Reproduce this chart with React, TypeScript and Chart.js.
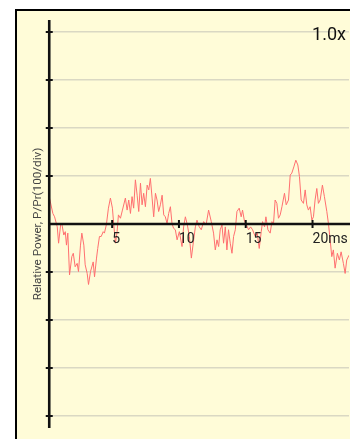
import React, { useEffect, useRef } from "react";
import { Chart, registerables } from "chart.js";

Chart.register(...registerables);

// time (ms) of each sample
const timeMs: number[] = [
  0.31, 0.56, 0.69, 0.89, 0.99, 1.14, 1.23, 1.38, 1.49, 1.58, 1.68, 1.81, 1.98, 2.09, 2.23, 2.38, 2.48,
  2.63, 2.73, 2.88, 2.98, 3.13, 3.23, 3.38, 3.58, 3.68, 3.83, 3.92, 4.05, 4.18, 4.33, 4.42, 4.57, 4.72,
  4.87, 5.02, 5.12, 5.25, 5.37, 5.47, 5.62, 5.77, 5.99, 6.12, 6.24, 6.37, 6.49, 6.61, 6.74, 6.87, 6.99,
  7.12, 7.24, 7.36, 7.49, 7.62, 7.74, 7.86, 7.99, 8.11, 8.24, 8.36, 8.48, 8.61, 8.74, 8.86, 8.98, 9.11,
  9.23, 9.36, 9.48, 9.6, 9.73, 9.86, 10.03, 10.23, 10.35, 10.48, 10.63, 10.78, 10.93, 11.1, 11.23, 11.35,
  11.52, 11.67, 11.85, 12.03, 12.22, 12.42, 12.59, 12.72, 12.85, 12.97, 13.09, 13.22, 13.34, 13.47, 13.59,
  13.71, 13.84, 13.97, 14.09, 14.22, 14.34, 14.51, 14.66, 14.76, 14.91, 15.06, 15.21, 15.36, 15.51, 15.71,
  15.86, 16.01, 16.16, 16.26, 16.41, 16.51, 16.66, 16.83, 16.96, 17.08, 17.2, 17.33, 17.45, 17.58, 17.71,
  17.9, 18.03, 18.2, 18.33, 18.45, 18.6, 18.75, 18.9, 19.02, 19.15, 19.32, 19.45, 19.57, 19.69, 19.82,
  19.95, 20.07, 20.19, 20.32, 20.44, 20.57, 20.74, 20.89, 21.07, 21.19, 21.32, 21.44, 21.56, 21.69, 21.86,
  22.01, 22.14, 22.31, 22.44, 22.56, 22.73,
];

// relative power (units of 100/div)
const relPower: number[] = [
  0.54, 0.22, 0.15, -0.06, -0.4, -0.02, 0.01, -0.23, -0.16, -0.44, -0.19, -1.06, -0.68, -0.61, -0.89, -0.82, -0.99,
  -0.44, -0.19, -0.44, -0.85, -1.03, -1.26, -0.99, -0.79, -1.1, -0.71, -0.51, -0.26, -0.26, -0.16, -0.19, -0.01, 0.33,
  0.54, 0.33, -0.02, -0.4, -0.16, 0.19, 0.12, 0.29, 0.54, 0.29, 0.5, 0.22, 0.57, 0.33, 0.92, 0.6, 0.26,
  0.85, 0.4, 0.64, 0.36, 0.81, 0.71, 0.95, 0.54, 0.15, 0.64, 0.5, 0.26, 0.4, 0.6, 0.19, 0.15, 0.01,
  0.22, 0.36, 0.01, -0.09, -0.12, -0.33, -0.16, -0.47, -0.06, 0.15, -0.02, -0.26, -0.71, -0.33, -0.06, 0.08,
  -0.06, -0.12, 0.05, -0.02, 0.29, 0.05, -0.19, -0.54, -0.33, -0.47, -0.12, -0.02, -0.4, -0.06, -0.54,
  -0.12, -0.4, -0.61, -0.26, -0.12, 0.26, 0.33, 0.15, 0.29, 0.05, -0.02, -0.12, -0.06, -0.12, -0.26,
  -0.19, -0.51, -0.16, 0.05, -0.06, 0.15, -0.12, -0.19, 0.05, 0.01, 0.5, 0.43, 0.12, 0.19, 0.36,
  0.64, 0.4, 0.5, 1.02, 1.06, 1.19, 1.33, 1.23, 0.99, 0.5, 0.43, 0.71, 0.4, 0.29, 0.36,
  0.08, 0.15, 0.5, 0.74, 0.43, 0.5, 0.81, 0.57, 0.26, 0.01, -0.33, -0.68, -0.54, -0.92, -0.61,
  -0.75, -0.58, -0.82, -1.03, -0.75, -0.65,
];

const xTicks: number[] = [5, 10, 15, 20];
const xTickLabels: string[] = ["5", "10", "15", "20ms"];
const yTicks: number[] = [-4, -3, -2, -1, 0, 1, 2, 3, 4];
const xMin = 0.29;
const xMax = 22.73;
const yMin = -4.25;
const yMax = 4.25;
const yTitle = "Relative Power, P/Pr(100/div)";
const zoomLabel = "1.0x";

const crossAxes = {
  id: "crossAxes",
  afterDatasetsDraw(chart: any) {
    const { ctx, chartArea, scales } = chart;
    const xs = scales.x;
    const ys = scales.y;
    const left = chartArea.left;
    const zeroY = ys.getPixelForValue(0);
    ctx.save();
    ctx.strokeStyle = "#111";
    ctx.lineWidth = 2.6;
    ctx.beginPath();
    ctx.moveTo(left, chartArea.top);
    ctx.lineTo(left, chartArea.bottom);
    ctx.stroke();
    ctx.beginPath();
    ctx.moveTo(left, zeroY);
    ctx.lineTo(chart.width, zeroY);
    ctx.stroke();
    ctx.lineWidth = 2;
    for (const v of yTicks) {
      if (v === 0) continue;
      const py = ys.getPixelForValue(v);
      ctx.beginPath();
      ctx.moveTo(left - 3.5, py);
      ctx.lineTo(left + 3.5, py);
      ctx.stroke();
    }
    for (const v of xTicks) {
      const px = xs.getPixelForValue(v);
      ctx.beginPath();
      ctx.moveTo(px, zeroY - 4);
      ctx.lineTo(px, zeroY + 4);
      ctx.stroke();
    }
    ctx.fillStyle = "#222";
    ctx.font = "14px Roboto";
    ctx.textAlign = "left";
    ctx.textBaseline = "alphabetic";
    xTicks.forEach((v, i) => {
      ctx.fillText(xTickLabels[i], xs.getPixelForValue(v), zeroY + 19);
    });
    ctx.restore();
  },
};

export default function App() {
  const ref = useRef<HTMLCanvasElement | null>(null);
  useEffect(() => {
    if (!ref.current) return;
    const chart = new Chart(ref.current, {
      type: "line",
      data: {
        datasets: [
          {
            data: timeMs.map((t, i) => ({ x: t, y: relPower[i] })),
            borderColor: "#FF6F6F",
            borderWidth: 1,
            pointRadius: 0,
            tension: 0,
          },
        ],
      },
      options: {
        animation: false,
        responsive: false,
        devicePixelRatio: 1,
        layout: { padding: { left: 27.2, top: 20, right: 1, bottom: 11 } },
        plugins: { legend: { display: false }, tooltip: { enabled: false } },
        scales: {
          x: { type: "linear", min: xMin, max: xMax, display: false },
          y: {
            type: "linear",
            min: yMin,
            max: yMax,
            afterBuildTicks: (scale: any) => {
              scale.ticks = yTicks.map((v) => ({ value: v }));
            },
            ticks: { display: false },
            border: { display: false },
            grid: { color: "#DAD8C3", lineWidth: 1.5, drawTicks: false },
            title: {
              display: true,
              text: yTitle,
              color: "#444",
              font: { family: "Roboto", size: 11.7 },
              padding: { top: 4, bottom: 4 },
            },
          },
        },
      },
      plugins: [crossAxes],
    });
    return () => chart.destroy();
  }, []);

  return (
    <div style={{ position: "fixed", left: 0, top: 0, width: 350, height: 439, background: "#fff", overflow: "hidden" }}>
      <div
        style={{
          position: "absolute",
          left: 15,
          top: 9,
          width: 340,
          height: 440,
          borderLeft: "2.5px solid #000",
          borderTop: "2.5px solid #000",
          background: "#FFFCD8",
        }}
      />
      <canvas ref={ref} width={350} height={439} style={{ position: "absolute", left: 0, top: 0 }} />
      <div
        style={{
          position: "absolute",
          right: 4,
          top: 23,
          font: "18px Roboto",
          color: "#111",
          lineHeight: "normal",
        }}
      >
        {zoomLabel}
      </div>
    </div>
  );
}
